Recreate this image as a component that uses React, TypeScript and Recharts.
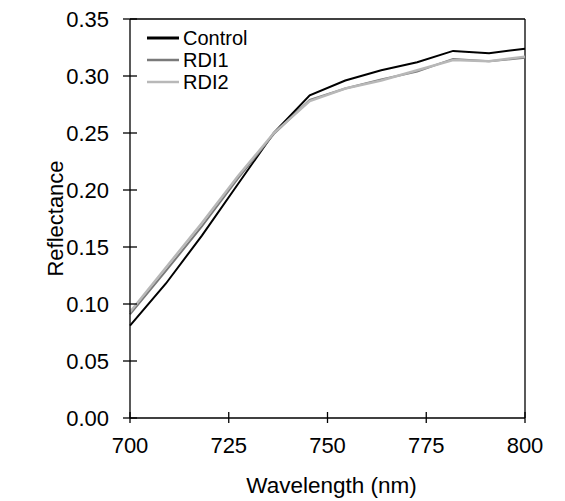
import React from 'react';
import { LineChart, Line, XAxis, YAxis, ReferenceLine } from 'recharts';

const wavelengths = [700, 709.1, 718.2, 727.3, 736.4, 745.5, 754.5, 763.6, 772.7, 781.8, 790.9, 800];
const control = [0.081, 0.118, 0.160, 0.205, 0.250, 0.283, 0.296, 0.305, 0.312, 0.322, 0.320, 0.324];
const rdi1 = [0.091, 0.129, 0.168, 0.210, 0.249, 0.279, 0.289, 0.297, 0.304, 0.315, 0.313, 0.316];
const rdi2 = [0.093, 0.132, 0.171, 0.212, 0.250, 0.278, 0.289, 0.296, 0.305, 0.314, 0.313, 0.317];
const xTicks = [700, 725, 750, 775, 800];
const yTicks = [0, 0.05, 0.1, 0.15, 0.2, 0.25, 0.3, 0.35];

const seriesInfo = [
  { key: 'Control', color: '#000000', width: 2, legendWidth: 3 },
  { key: 'RDI1', color: '#7a7a7a', width: 2, legendWidth: 2.5 },
  { key: 'RDI2', color: '#b8b8b8', width: 2.5, legendWidth: 2.5 },
];

const data = wavelengths.map((w, i) => ({ wl: w, Control: control[i], RDI1: rdi1[i], RDI2: rdi2[i] }));

const FONT = '"Liberation Sans", Arial, sans-serif';

const XTick = (props: any) => {
  const { x, y, payload } = props;
  return (
    <g>
      <line x1={x} x2={x} y1={y - 6} y2={y + 5} stroke="#000" strokeWidth={1.3} />
      <text x={x} y={y + 35} textAnchor="middle" fontSize={22} fontFamily={FONT} fill="#000">
        {payload.value}
      </text>
    </g>
  );
};

const YTick = (props: any) => {
  const { x, y, payload } = props;
  return (
    <g>
      <line x1={x - 7} x2={x + 7} y1={y} y2={y} stroke="#000" strokeWidth={1.3} />
      <text x={x - 21} y={y + 7.8} textAnchor="end" fontSize={22} fontFamily={FONT} fill="#000">
        {Number(payload.value).toFixed(2)}
      </text>
    </g>
  );
};

const YLabel = (props: any) => {
  const vb = props.viewBox || { x: 0, y: 19, width: 130, height: 399 };
  const cx = 55;
  const cy = vb.y + vb.height / 2;
  return (
    <text x={cx} y={cy} transform={`rotate(-90, ${cx}, ${cy})`} textAnchor="middle" dominantBaseline="central"
      fontSize={22} fontFamily={FONT} fill="#000">
      Reflectance
    </text>
  );
};

const XLabel = (props: any) => {
  const vb = props.viewBox || { x: 130, y: 418, width: 395, height: 83 };
  return (
    <text x={vb.x + vb.width / 2 + 4} y={493} textAnchor="middle" fontSize={22.5} fontFamily={FONT} fill="#000">
      Wavelength (nm)
    </text>
  );
};

const LegendBox = () => (
  <div style={{ position: 'absolute', left: 147, top: 27, fontFamily: FONT, fontSize: 20, lineHeight: '22px', color: '#000' }}>
    {seriesInfo.map((s) => (
      <div key={s.key} style={{ display: 'flex', alignItems: 'center', height: 22 }}>
        <svg width={32} height={22} style={{ display: 'block' }}>
          <line x1={0} x2={32} y1={11} y2={11} stroke={s.color} strokeWidth={s.legendWidth} />
        </svg>
        <span style={{ marginLeft: 4 }}>{s.key}</span>
      </div>
    ))}
  </div>
);

export default function App() {
  return (
    <div style={{ position: 'absolute', left: 0, top: 0, width: 565, height: 501, background: '#fff' }}>
      <LineChart width={565} height={501} data={data} margin={{ top: 19, right: 40, bottom: 0, left: 0 }}>
        <XAxis
          dataKey="wl"
          type="number"
          domain={[700, 800]}
          ticks={xTicks}
          tick={<XTick />}
          tickLine={false}
          tickSize={0}
          tickMargin={0}
          height={83}
          axisLine={{ stroke: '#000', strokeWidth: 1.3 }}
          label={<XLabel />}
          interval={0}
        />
        <YAxis
          type="number"
          domain={[0, 0.35]}
          ticks={yTicks}
          tick={<YTick />}
          tickLine={false}
          tickSize={0}
          tickMargin={0}
          width={130}
          axisLine={{ stroke: '#000', strokeWidth: 1.3 }}
          label={<YLabel />}
          interval={0}
        />
        <ReferenceLine y={0.35} stroke="#000" strokeWidth={1.3} ifOverflow="visible" />
        <ReferenceLine x={800} stroke="#000" strokeWidth={1.3} ifOverflow="visible" />
        {seriesInfo.map((s) => (
          <Line
            key={s.key}
            type="linear"
            dataKey={s.key}
            stroke={s.color}
            strokeWidth={s.width}
            dot={false}
            activeDot={false}
            isAnimationActive={false}
          />
        ))}
      </LineChart>
      <LegendBox />
    </div>
  );
}
